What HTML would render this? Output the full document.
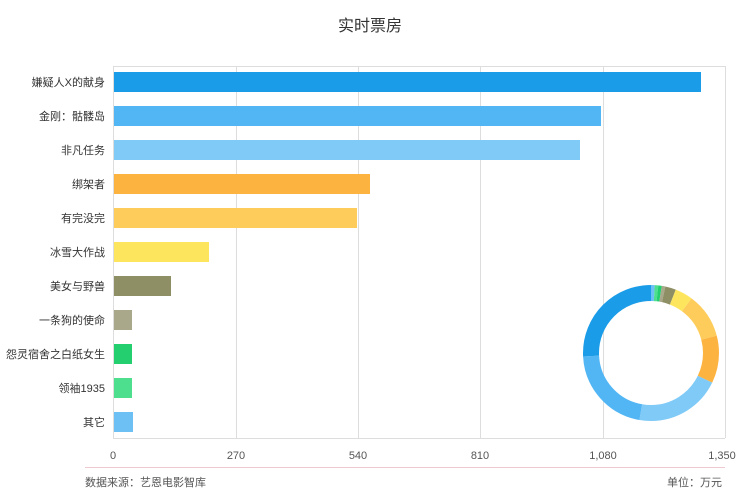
<!DOCTYPE html><html><head><meta charset="utf-8"><style>
body{margin:0;width:748px;height:495px;background:#fff;font-family:"Liberation Sans","Noto Sans CJK SC",sans-serif;overflow:hidden}
</style></head><body>
<svg width="748" height="495" xmlns="http://www.w3.org/2000/svg" font-family="Liberation Sans, Noto Sans CJK SC, sans-serif">
<text x="370" y="31" font-size="16" fill="#333" text-anchor="middle">实时票房</text>
<g stroke="#ddd" stroke-width="1">
<line x1="113.5" y1="66" x2="113.5" y2="438"/><line x1="236.5" y1="66" x2="236.5" y2="438"/><line x1="358.5" y1="66" x2="358.5" y2="438"/><line x1="480.5" y1="66" x2="480.5" y2="438"/><line x1="603.5" y1="66" x2="603.5" y2="438"/><line x1="725.5" y1="66" x2="725.5" y2="438"/>
<line x1="113" y1="66.5" x2="725" y2="66.5"/><line x1="113" y1="438.5" x2="725" y2="438.5"/>
</g>
<g>
<rect x="114" y="72" width="587" height="20" fill="#1a9ce8"/>
<rect x="114" y="106" width="487" height="20" fill="#52b6f5"/>
<rect x="114" y="140" width="466" height="20" fill="#7fcaf7"/>
<rect x="114" y="174" width="256" height="20" fill="#fdb33f"/>
<rect x="114" y="208" width="243" height="20" fill="#fecc5a"/>
<rect x="114" y="242" width="95" height="20" fill="#fde65e"/>
<rect x="114" y="276" width="57" height="20" fill="#8f8f66"/>
<rect x="114" y="310" width="18" height="20" fill="#a9a88a"/>
<rect x="114" y="344" width="18" height="20" fill="#24cf70"/>
<rect x="114" y="378" width="18" height="20" fill="#4ddf8e"/>
<rect x="114" y="412" width="19" height="20" fill="#6cc0f3"/>
</g>
<g font-size="11" fill="#333" text-anchor="end">
<text x="105" y="86">嫌疑人X的献身</text><text x="105" y="120">金刚：骷髅岛</text><text x="105" y="154">非凡任务</text><text x="105" y="188">绑架者</text><text x="105" y="222">有完没完</text><text x="105" y="256">冰雪大作战</text><text x="105" y="290">美女与野兽</text><text x="105" y="324">一条狗的使命</text><text x="105" y="358">怨灵宿舍之白纸女生</text><text x="105" y="392">领袖1935</text><text x="105" y="426">其它</text>
</g>
<g font-size="11" fill="#555" text-anchor="middle">
<text x="113" y="459">0</text><text x="236" y="459">270</text><text x="358" y="459">540</text><text x="480" y="459">810</text><text x="603" y="459">1,080</text><text x="722" y="459">1,350</text>
</g>
<line x1="85" y1="467.5" x2="725" y2="467.5" stroke="#f0c8d0"/>
<text x="85" y="486" font-size="11" fill="#555">数据来源：艺恩电影智库</text>
<text x="722" y="486" font-size="11" fill="#555" text-anchor="end">单位：万元</text>
<g fill="none" stroke-width="16" transform="translate(651,353) rotate(-90)">
<circle r="60" stroke="#6cc0f3" stroke-dasharray="3.314 373.68" stroke-dashoffset="0"/>
<circle r="60" stroke="#4ddf8e" stroke-dasharray="3.149 373.84" stroke-dashoffset="-3.314"/>
<circle r="60" stroke="#24cf70" stroke-dasharray="3.149 373.84" stroke-dashoffset="-6.463"/>
<circle r="60" stroke="#a9a88a" stroke-dasharray="3.149 373.84" stroke-dashoffset="-9.612"/>
<circle r="60" stroke="#8f8f66" stroke-dasharray="9.612 367.38" stroke-dashoffset="-12.761"/>
<circle r="60" stroke="#fde65e" stroke-dasharray="15.909 361.08" stroke-dashoffset="-22.373"/>
<circle r="60" stroke="#fecc5a" stroke-dasharray="40.436 336.55" stroke-dashoffset="-38.282"/>
<circle r="60" stroke="#fdb33f" stroke-dasharray="42.59 334.4" stroke-dashoffset="-78.718"/>
<circle r="60" stroke="#7fcaf7" stroke-dasharray="77.39 299.6" stroke-dashoffset="-121.308"/>
<circle r="60" stroke="#52b6f5" stroke-dasharray="80.87 296.12" stroke-dashoffset="-198.698"/>
<circle r="60" stroke="#1a9ce8" stroke-dasharray="97.44 279.55" stroke-dashoffset="-279.568"/>
</g>
</svg>
</body></html>
